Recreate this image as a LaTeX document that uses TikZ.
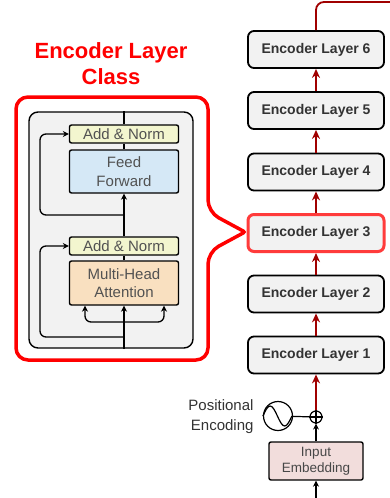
\documentclass[tikz,border=0pt]{standalone}
\usepackage{fontspec}
\setmainfont{Liberation Sans}
\usetikzlibrary{arrows.meta}
\definecolor{encfill}{HTML}{F2F2F2}
\definecolor{darkred}{HTML}{A00000}
\definecolor{hired}{HTML}{FF3B3B}
\definecolor{normfill}{HTML}{F3F6CF}
\definecolor{fffill}{HTML}{D5E8F6}
\definecolor{attfill}{HTML}{F9E0C0}
\definecolor{embfill}{HTML}{F2DDDC}
\definecolor{txtgray}{HTML}{333333}
\tikzset{
    enclayer/.style={draw, line width=1.8pt, fill=encfill, rounded corners=6pt,
        minimum width=136pt, minimum height=37pt, text=txtgray,
        font=\fontsize{14}{16}\selectfont\bfseries},
    sublayer/.style={draw, line width=1.4pt, rounded corners=2pt, minimum width=109pt,
        text=txtgray!85, align=center, font=\fontsize{15}{18.5}\selectfont},
    redarrow/.style={-{Stealth[length=9pt,width=8pt]}, line width=1.8pt, darkred},
    blackarrow/.style={-{Stealth[length=6pt,width=6pt]}, line width=1.3pt}
}
\begin{document}
\begin{tikzpicture}[x=1pt,y=-1pt]
    \useasboundingbox (0,0) rectangle (390,498);
    % encoder stack
    \node[enclayer] (l1) at (316,355) {Encoder Layer 1};
    \node[enclayer] (l2) at (316,294) {Encoder Layer 2};
    \node[enclayer, draw=hired, line width=3pt] (l3) at (316,233) {Encoder Layer 3};
    \node[enclayer] (l4) at (316,172) {Encoder Layer 4};
    \node[enclayer] (l5) at (316,110.5) {Encoder Layer 5};
    \node[enclayer] (l6) at (316,49.5) {Encoder Layer 6};
    \draw[redarrow] (l1) -- (l2);
    \draw[redarrow] (l2) -- (l3);
    \draw[redarrow] (l3) -- (l4);
    \draw[redarrow] (l4) -- (l5);
    \draw[redarrow] (l5) -- (l6);
    \coordinate (out) at (390,2);
    \draw[line width=1.8pt, darkred, rounded corners=8pt] (l6) -- (l6.north |- out) -- (out);
    % input side
    \node[draw, line width=1.4pt, fill=embfill, rounded corners=2pt, minimum width=94pt,
        minimum height=38pt, align=center, text=txtgray!90,
        font=\fontsize{13.5}{16}\selectfont] (emb) at (316,461) {Input\\Embedding};
    \node[circle, draw, line width=1.2pt, minimum size=12pt, inner sep=0pt] (add) at (316,417) {};
    \draw[line width=1.2pt] (add.north) -- (add.south) (add.west) -- (add.east);
    \node[circle, draw, line width=1.2pt, minimum size=29pt, inner sep=0pt] (pe) at (278,416) {};
    \draw[line width=1.2pt] (pe.west) sin ++(7.25,-10) cos ++(7.25,10) sin ++(7.25,10) cos ++(7.25,-10);
    \node[anchor=east, align=right, text=txtgray, font=\fontsize{15}{20}\selectfont] (petxt) at (257,417) {Positional\\Encoding};
    \draw[line width=1.2pt] (pe) -- (add);
    \draw[blackarrow] (emb) -- (add);
    \coordinate (in) at (316,498);
    \draw[blackarrow] (in) -- (emb);
    \draw[redarrow] (add) -- (l1);
    % encoder layer class
    \node[align=center, text=red, font=\fontsize{22}{26}\selectfont\bfseries] (ttl) at (111,64) {Encoder Layer\\Class};
    \draw[red, line width=3.5pt, rounded corners=12pt] (16,97) -- (208,97) -- (208,212)
        [rounded corners=2pt] -- (245,232) [rounded corners=12pt] -- (208,252) -- (208,360) -- (16,360) -- cycle;
    \node[draw, line width=1.4pt, fill=encfill, rounded corners=9pt, minimum width=164pt,
        minimum height=236pt] (panel) at (111,230) {};
    \node[sublayer, fill=normfill, minimum height=18pt] (an2) at (124,134) {Add \& Norm};
    \node[sublayer, fill=fffill, minimum height=43pt] (ff) at (124,171.5) {Feed\\Forward};
    \node[sublayer, fill=normfill, minimum height=18pt] (an1) at (124,246) {Add \& Norm};
    \node[sublayer, fill=attfill, minimum height=44pt] (mha) at (124,283) {Multi-Head\\Attention};
    \draw[blackarrow] (panel.south -| mha) -- (mha);
    \draw[line width=1.3pt] (mha) -- (an1);
    \draw[blackarrow] (an1) -- (ff);
    \draw[line width=1.3pt] (ff) -- (an2);
    \draw[line width=1.3pt] (an2) -- (panel.north -| an2);
    \coordinate (res1) at (124,337);
    \coordinate (res2) at (124,215);
    \coordinate (split) at (124,322);
    \draw[blackarrow, rounded corners=6pt] (res1) -- ++(-84,0) |- (an1.west);
    \draw[blackarrow, rounded corners=6pt] (res2) -- ++(-84,0) |- (an2.west);
    \draw[blackarrow, rounded corners=6pt] (split) -| ([xshift=-39pt]mha.south);
    \draw[blackarrow, rounded corners=6pt] (split) -| ([xshift=40pt]mha.south);
\end{tikzpicture}
\end{document}
